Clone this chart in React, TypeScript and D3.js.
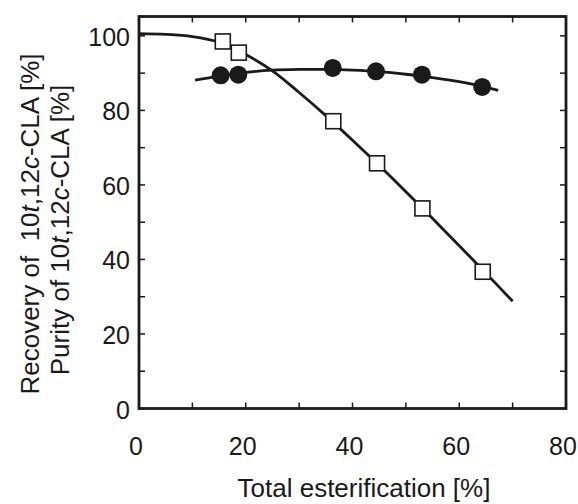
import React from "react";
import * as d3 from "d3";

const W = 578;
const H = 504;

// Measured data points
const recoveryX = [15.7, 18.7, 36.4, 44.6, 53.1, 64.4];
const recoveryY = [98.5, 95.5, 77.1, 65.8, 53.7, 36.7];
const purityX = [15.3, 18.6, 36.3, 44.4, 53.0, 64.3];
const purityY = [89.4, 89.6, 91.4, 90.5, 89.6, 86.3];

// Fitted curves
const recoveryFitX = [0, 5, 10, 15, 20, 25, 30, 35, 40, 45, 50, 55, 60, 65, 70];
const recoveryFitY = [100.6, 100.4, 99.8, 98.3, 95.0, 90.6, 84.8, 78.6, 72.0, 65.2, 58.2, 51.0, 43.7, 36.3, 28.8];
const purityFitX = [10.5, 15, 20, 25, 30, 35, 40, 45, 50, 55, 60, 65, 67.3];
const purityFitY = [88.1, 89.2, 90.2, 90.8, 91.0, 91.0, 90.8, 90.4, 89.7, 88.8, 87.7, 86.2, 85.4];

const xTickLabels = [0, 20, 40, 60, 80];
const yTickLabels = [0, 20, 40, 60, 80, 100];
const minorTicks = [0, 10, 20, 30, 40, 50, 60, 70, 80, 90, 100];

const xTitle = "Total esterification [%]";

export default function App() {
  const left = 139, right = 566, top = 16.5, bottom = 408.5;
  const x = d3.scaleLinear().domain([0, 80]).range([left, right]);
  const y = d3.scaleLinear().domain([0, 105.2]).range([bottom, top]);

  const line = d3
    .line<[number, number]>()
    .x((d) => x(d[0]))
    .y((d) => y(d[1]))
    .curve(d3.curveCatmullRom.alpha(0.5));

  const recFit = recoveryFitX.map((v, i) => [v, recoveryFitY[i]] as [number, number]);
  const purFit = purityFitX.map((v, i) => [v, purityFitY[i]] as [number, number]);

  const tickLen = 6;
  const font = "Liberation Sans, Arial, sans-serif";
  const sq = 15;

  return (
    <svg
      width={W}
      height={H}
      style={{ position: "absolute", left: 0, top: 0, background: "#fff" }}
      fontFamily={font}
    >
      <rect x={0} y={0} width={W} height={H} fill="#fff" />
      {/* ticks */}
      {minorTicks.filter((t) => t <= 80).map((t) => (
        <g key={"xt" + t} stroke="#1a1a1a" strokeWidth={1.5}>
          <line x1={x(t)} x2={x(t)} y1={bottom} y2={bottom - tickLen} />
          <line x1={x(t)} x2={x(t)} y1={top} y2={top + tickLen} />
        </g>
      ))}
      {minorTicks.map((t) => (
        <g key={"yt" + t} stroke="#1a1a1a" strokeWidth={1.5}>
          <line x1={left} x2={left + tickLen} y1={y(t)} y2={y(t)} />
          <line x1={right} x2={right - tickLen} y1={y(t)} y2={y(t)} />
        </g>
      ))}
      {/* frame */}
      <rect
        x={left}
        y={top}
        width={right - left}
        height={bottom - top}
        fill="none"
        stroke="#1a1a1a"
        strokeWidth={2.8}
      />
      {/* tick labels */}
      {xTickLabels.map((t) => (
        <text
          key={"xl" + t}
          x={x(t) - 3}
          y={455}
          textAnchor="middle"
          fontSize={25}
          fill="#1a1a1a"
        >
          {t}
        </text>
      ))}
      {yTickLabels.map((t) => (
        <text
          key={"yl" + t}
          x={130}
          y={y(t) + 10}
          textAnchor="end"
          fontSize={25}
          fill="#1a1a1a"
        >
          {t}
        </text>
      ))}
      {/* axis titles */}
      <text x={364} y={497} textAnchor="middle" fontSize={26} fill="#1a1a1a">
        {xTitle}
      </text>
      <text
        transform="translate(39,224) rotate(-90)"
        textAnchor="middle"
        fontSize={26}
        fill="#1a1a1a"
        style={{ whiteSpace: "pre" }}
      >
        <tspan>Recovery of  10</tspan>
        <tspan fontStyle="italic">t</tspan>
        <tspan>,12</tspan>
        <tspan fontStyle="italic">c</tspan>
        <tspan>-CLA [%]</tspan>
      </text>
      <text
        transform="translate(69,230) rotate(-90)"
        textAnchor="middle"
        fontSize={26}
        fill="#1a1a1a"
        style={{ whiteSpace: "pre" }}
      >
        <tspan>Purity of 10</tspan>
        <tspan fontStyle="italic">t</tspan>
        <tspan>,12</tspan>
        <tspan fontStyle="italic">c</tspan>
        <tspan>-CLA [%]</tspan>
      </text>
      {/* curves */}
      <path d={line(recFit) || ""} fill="none" stroke="#1a1a1a" strokeWidth={2.8} />
      <path d={line(purFit) || ""} fill="none" stroke="#1a1a1a" strokeWidth={2.8} />
      {/* markers */}
      {purityX.map((v, i) => (
        <circle key={"c" + i} cx={x(v)} cy={y(purityY[i])} r={9} fill="#1a1a1a" />
      ))}
      {recoveryX.map((v, i) => (
        <rect
          key={"s" + i}
          x={x(v) - sq / 2}
          y={y(recoveryY[i]) - sq / 2}
          width={sq}
          height={sq}
          fill="#fff"
          stroke="#1a1a1a"
          strokeWidth={1.6}
        />
      ))}
    </svg>
  );
}
